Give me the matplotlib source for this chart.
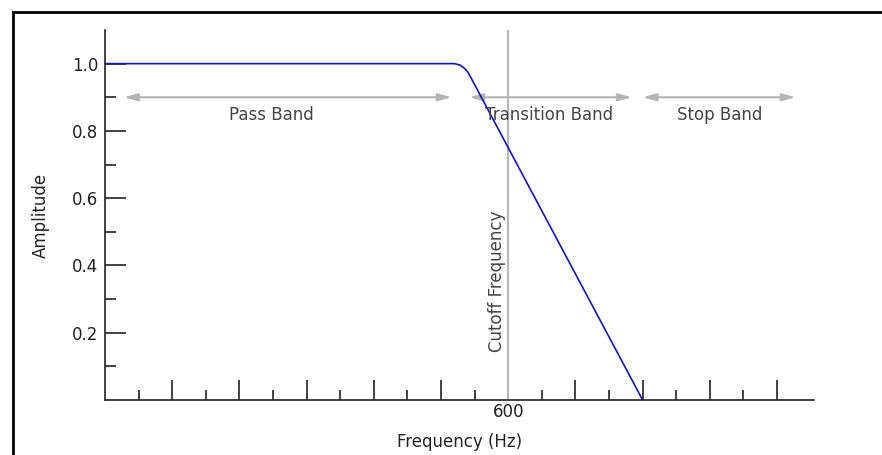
import matplotlib
matplotlib.use("Agg")
import matplotlib.pyplot as plt
from matplotlib.lines import Line2D

# ---- data ----
freq = [0, 520, 528, 535, 540, 800]
amp = [1.0, 1.0, 0.996, 0.986, 0.975, 0.0]

cutoff = 600
band_labels = ["Pass Band", "Transition Band", "Stop Band"]
band_start = [28, 542, 800]
band_end = [516, 784, 1028]
band_label_x = [248, 661, 915]
band_level = 0.9

x_major = [100, 200, 300, 400, 500, 600, 700, 800, 900, 1000]
x_minor = [50, 150, 250, 350, 450, 550, 650, 750, 850, 950]
x_labels = ["", "", "", "", "", "600", "", "", "", ""]
y_major = [0.2, 0.4, 0.6, 0.8, 1.0]
y_minor = [0.1, 0.3, 0.5, 0.7, 0.9]
y_labels = ["0.2", "0.4", "0.6", "0.8", "1.0"]

plt.rcParams["font.family"] = ["DejaVu Sans"]
FS = 12

fig = plt.figure(figsize=(8.82, 4.55), dpi=100)
fig.patch.set_facecolor("white")
ax = fig.add_axes([105 / 882, 55 / 455, 709 / 882, 370 / 455])

ax.set_xlim(0, 1055)
ax.set_ylim(0, 1.1)

# cutoff line
ax.axvline(cutoff, color="#b8b8b8", lw=1.5, zorder=1)

# response curve
ax.plot(freq, amp, color="#1414b4", lw=1.2, zorder=2)

# band arrows and labels
for lab, s, e, lx in zip(band_labels, band_start, band_end, band_label_x):
    ax.annotate("", xy=(e, band_level), xytext=(s, band_level),
                arrowprops=dict(arrowstyle="<|-|>,head_length=0.8,head_width=0.22",
                                color="#b4b4b4", lw=1.5, shrinkA=0, shrinkB=0,
                                mutation_scale=10), zorder=1.5)
    ax.text(lx, 0.846, lab, ha="center", va="center", fontsize=FS,
            color="#444444", zorder=4)

ax.text(597, 0.353, "Cutoff Frequency", rotation=90, ha="right", va="center",
        fontsize=FS, color="#444444")

# spines
for sp in ["top", "right"]:
    ax.spines[sp].set_visible(False)
for sp in ["left", "bottom"]:
    ax.spines[sp].set_color("#222222")
    ax.spines[sp].set_linewidth(1.2)

ax.set_xticks(x_major)
ax.set_xticklabels(x_labels)
ax.set_xticks(x_minor, minor=True)
ax.set_yticks(y_major)
ax.set_yticklabels(y_labels)
ax.set_yticks(y_minor, minor=True)

ax.tick_params(axis="x", which="major", direction="in", length=14.4, width=1.2,
               color="#222222", labelsize=FS, labelcolor="#222222", pad=2)
ax.tick_params(axis="x", which="minor", direction="in", length=7.2, width=1.2,
               color="#222222")
ax.tick_params(axis="y", which="major", direction="in", length=15, width=1.2,
               color="#222222", labelsize=FS, labelcolor="#222222", pad=5)
ax.tick_params(axis="y", which="minor", direction="in", length=8, width=1.2,
               color="#222222")

# hide black tick at cutoff
ax.xaxis.get_major_ticks()[5].tick1line.set_visible(False)

ax.set_xlabel("Frequency (Hz)", fontsize=FS, color="#222222", labelpad=9)
ax.set_ylabel("Amplitude", fontsize=FS, color="#222222", labelpad=16)

# outer frame (top and left edges visible)
fig.add_artist(Line2D([12.5 / 882, 1.0], [443 / 455, 443 / 455], color="black",
                      lw=2, transform=fig.transFigure))
fig.add_artist(Line2D([12.5 / 882, 12.5 / 882], [0, 443.5 / 455], color="black",
                      lw=2, transform=fig.transFigure))

fig.savefig("out.png", dpi=100, facecolor="white")
